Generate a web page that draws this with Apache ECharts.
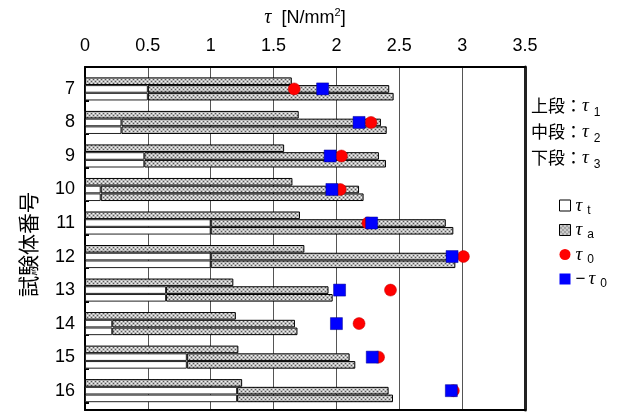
<!DOCTYPE html>
<html><head><meta charset="utf-8">
<script src="https://cdn.jsdelivr.net/npm/echarts@6/dist/echarts.min.js"></script>
<style>html,body{margin:0;padding:0;background:#fff}#c{width:630px;height:412px}</style>
</head><body><div id="c"></div>
<script>
// ---- data ----
const specimens = ['7','8','9','10','11','12','13','14','15','16'];
// white part τt for upper (τ1), middle (τ2), lower (τ3) rows
const tauT1 = [0, 0, 0, 0, 0, 0, 0, 0, 0, 0];
const tauT2 = [0.50, 0.29, 0.472, 0.125, 1.00, 1.00, 0.645, 0.217, 0.81, 1.21];
const tauT3 = [0.50, 0.29, 0.472, 0.125, 1.00, 1.00, 0.645, 0.217, 0.81, 1.21];
// dotted part τa (length of the segment after τt)
const tauA1 = [1.645, 1.70, 1.584, 1.65, 1.71, 1.745, 1.18, 1.20, 1.22, 1.25];
const tauA2 = [1.92, 2.064, 1.866, 2.055, 1.87, 1.88, 1.292, 1.453, 1.295, 1.205];
const tauA3 = [1.955, 2.11, 1.922, 2.091, 1.93, 1.946, 1.325, 1.473, 1.34, 1.24];
// markers (plotted on the middle row)
const tau0    = [1.664, 2.275, 2.04, 2.03, 2.25, 3.01, 2.43, 2.18, 2.335, 2.93];
const negTau0 = [1.89, 2.18, 1.95, 1.964, 2.28, 2.92, 2.025, 2.00, 2.285, 2.914];
const xMin = 0, xMax = 3.5, xStep = 0.5;

// ---- layout of category slots (13 thin slots per specimen + 3 at the end) ----
const PER = 13, ROWS = [5, 8, 11], TAIL = 3;
const cats = [];
specimens.forEach(s => { for (let k = 0; k < PER; k++) cats.push(s + '_' + k); });
for (let k = 0; k < TAIL; k++) cats.push('end_' + k);
function rowData(rows) {
  const arr = new Array(cats.length).fill(null);
  rows.forEach((vals, r) => vals.forEach((v, g) => { arr[g * PER + ROWS[r]] = v; }));
  return arr;
}
const tData = rowData([tauT1, tauT2, tauT3]);
const aData = rowData([tauA1, tauA2, tauA3]);
const t0Data = tau0.map((v, g) => [v, g * PER + ROWS[1]]);
const nt0Data = negTau0.map((v, g) => [v, g * PER + ROWS[1]]);

// dotted pattern
const pc = document.createElement('canvas');
pc.width = 4; pc.height = 4;
const px = pc.getContext('2d');
px.fillStyle = '#bcbcbc'; px.fillRect(0, 0, 4, 4);
px.fillStyle = '#f6f6f6'; px.fillRect(1, 1, 1, 1); px.fillRect(3, 3, 1, 1);
px.fillStyle = '#555555'; px.fillRect(3, 1, 1, 1); px.fillRect(1, 3, 1, 1);
const dotted = { image: pc, repeat: 'repeat' };

const NUMF = "'Liberation Sans',Arial,sans-serif";
const JPF = "'Noto Sans CJK JP',sans-serif";
const TAUF = "'Liberation Serif','DejaVu Serif',serif";

const legendRich = {
  t: { fontSize: 19, fontStyle: 'italic', fontWeight: 'normal', fontFamily: TAUF, lineHeight: 22, color: '#000' },
  n: { fontSize: 17, fontWeight: 'normal', fontFamily: NUMF, lineHeight: 22, color: '#000', padding: [0, 3, 0, 0] },
  s: { fontSize: 12, fontWeight: 'normal', fontFamily: NUMF, lineHeight: 15, verticalAlign: 'bottom', padding: [0, 0, 0, 5], color: '#000' }
};
const legendLabels = {
  'τt': '{t|τ}{s|t}', 'τa': '{t|τ}{s|a}', 'τ0': '{t|τ}{s|0}', '−τ0': '{n|−}{t|τ}{s|0}'
};

const chart = echarts.init(document.getElementById('c'), null, { renderer: 'canvas' });
chart.setOption({
  animation: false,
  backgroundColor: '#fff',
  grid: { left: 85, right: 105, top: 67, bottom: 2, containLabel: false },
  title: {
    left: 526, top: 88,
    text: '{c|上段：}{t|τ}{s|1}\n{c|中段：}{t|τ}{s|2}\n{c|下段：}{t|τ}{s|3}',
    textStyle: {
      fontWeight: 'normal',
      rich: {
        c: { fontSize: 17, fontWeight: 'normal', fontFamily: JPF, lineHeight: 26, color: '#000' },
        t: { fontSize: 19, fontStyle: 'italic', fontWeight: 'normal', fontFamily: TAUF, lineHeight: 26, color: '#000' },
        s: { fontSize: 12, fontWeight: 'normal', fontFamily: NUMF, lineHeight: 18, verticalAlign: 'bottom', padding: [0, 0, 0, 5], color: '#000' }
      }
    }
  },
  legend: {
    orient: 'vertical', left: 554, top: 191, itemGap: 4,
    itemWidth: 11, itemHeight: 11,
    data: [
      { name: 'τt', icon: 'rect', itemStyle: { color: '#fff', borderColor: '#000', borderWidth: 1 } },
      { name: 'τa', icon: 'rect', itemStyle: { borderColor: '#000', borderWidth: 1 } },
      { name: 'τ0', icon: 'circle', itemStyle: { borderWidth: 0 } },
      { name: '−τ0', icon: 'rect', itemStyle: { borderWidth: 0 } }
    ],
    formatter: n => legendLabels[n],
    textStyle: { rich: legendRich }
  },
  xAxis: [{
    type: 'value', position: 'top', min: xMin, max: xMax, interval: xStep,
    name: '{t|τ}  [N/mm{u|2}]', nameLocation: 'middle', nameGap: 38,
    nameTextStyle: {
      fontSize: 18, fontFamily: NUMF, color: '#000',
      rich: {
        t: { fontSize: 20, fontStyle: 'italic', fontFamily: TAUF, lineHeight: 22, color: '#000' },
        u: { fontSize: 11, fontFamily: NUMF, lineHeight: 12, verticalAlign: 'top', color: '#000' }
      }
    },
    axisLine: { show: true, lineStyle: { color: '#000', width: 2 } },
    axisTick: { show: false },
    axisLabel: { fontSize: 18, fontFamily: NUMF, color: '#000', margin: 12 },
    splitLine: { show: true, lineStyle: { color: '#555', width: 1 } }
  }, {
    type: 'value', position: 'bottom', min: xMin, max: xMax, interval: xStep,
    axisLine: { show: true, onZero: false, lineStyle: { color: '#000', width: 2 } },
    axisTick: { show: false }, axisLabel: { show: false }, splitLine: { show: false }
  }],
  yAxis: [{
    type: 'category', data: cats, inverse: true, position: 'left',
    name: '試験体番号', nameLocation: 'middle', nameRotate: 90, nameGap: 46,
    nameTextStyle: { fontSize: 21, fontFamily: JPF, color: '#000', padding: [0, 12, 0, 0] },
    axisLine: { show: true, onZero: false, lineStyle: { color: '#000', width: 2 } },
    axisTick: { show: true, inside: true, length: 4, interval: i => i % PER === 0, lineStyle: { color: '#000', width: 2 } },
    axisLabel: {
      interval: i => i % PER === ROWS[1],
      formatter: v => v.split('_')[0],
      fontSize: 18, fontFamily: NUMF, color: '#000', margin: 10
    },
    splitLine: { show: false }
  }, {
    type: 'category', data: cats, inverse: true, position: 'right',
    axisLine: { show: true, onZero: false, lineStyle: { color: '#222', width: 3 } },
    axisTick: { show: false }, axisLabel: { show: false }, splitLine: { show: false }
  }],
  series: [{
    name: 'τt', type: 'bar', stack: 'row', xAxisIndex: 0, yAxisIndex: 0,
    barWidth: 7.6, data: tData,
    itemStyle: { color: '#fff', borderColor: '#222', borderWidth: 1 }
  }, {
    name: 'τa', type: 'bar', stack: 'row', xAxisIndex: 0, yAxisIndex: 0,
    barWidth: 7.6, data: aData,
    itemStyle: { color: dotted, borderColor: '#000', borderWidth: 1 }
  }, {
    name: 'τ0', type: 'scatter', xAxisIndex: 0, yAxisIndex: 0,
    symbol: 'circle', symbolSize: 12, data: t0Data, z: 3,
    itemStyle: { color: '#ff0000', borderColor: '#c00000', borderWidth: 0.5, opacity: 1 }
  }, {
    name: '−τ0', type: 'scatter', xAxisIndex: 0, yAxisIndex: 0,
    symbol: 'rect', symbolSize: 12, data: nt0Data, z: 4,
    itemStyle: { color: '#0000ff', borderColor: '#00008b', borderWidth: 0.5, opacity: 1 }
  }]
});
</script></body></html>
